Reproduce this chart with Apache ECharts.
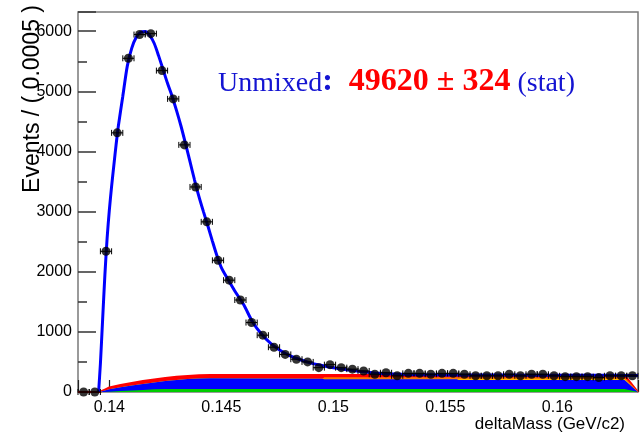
<!DOCTYPE html>
<html>
<head>
<meta charset="utf-8">
<script src="https://cdn.jsdelivr.net/npm/echarts@6/dist/echarts.min.js"></script>
<style>
  html, body { margin: 0; padding: 0; background: #fff; }
  #chart { width: 641px; height: 432px; }
</style>
</head>
<body>
<div id="chart"></div>
<script>
// deltaMass histogram: bin centres (GeV/c2) and events per 0.0005 bin
const binCenters = [
  0.13885, 0.13935, 0.13985, 0.14035, 0.14085, 0.14135, 0.14185, 0.14235, 0.14285, 0.14335,
  0.14385, 0.14435, 0.14485, 0.14535, 0.14585, 0.14635, 0.14685, 0.14735, 0.14785, 0.14835,
  0.14885, 0.14935, 0.14985, 0.15035, 0.15085, 0.15135, 0.15185, 0.15235, 0.15285, 0.15335,
  0.15385, 0.15435, 0.15485, 0.15535, 0.15585, 0.15635, 0.15685, 0.15735, 0.15785, 0.15835,
  0.15885, 0.15935, 0.15985, 0.16035, 0.16085, 0.16135, 0.16185, 0.16235, 0.16285, 0.16335
];
const eventCounts = [
  0, 0, 2340, 4310, 5550, 5945, 5960, 5345, 4875, 4110,
  3410, 2830, 2190, 1860, 1530, 1155, 945, 745, 625, 545,
  500, 405, 455, 405, 380, 350, 295, 320, 270, 310,
  310, 295, 310, 310, 295, 270, 270, 270, 295, 270,
  295, 295, 270, 255, 255, 255, 240, 270, 270, 270
];
const binHalfWidth = 0.00025;

// total fit curve (signal + backgrounds)
const fitX = [
  0.13952, 0.1396, 0.1397, 0.1398, 0.1399, 0.1400, 0.1401, 0.1402, 0.1403, 0.1404,
  0.1406, 0.1408, 0.1410, 0.1412, 0.1414, 0.1416, 0.1418, 0.1420, 0.1422, 0.1424,
  0.1426, 0.1428, 0.1430, 0.1432, 0.1434, 0.1436, 0.1438, 0.1440, 0.1442, 0.1444,
  0.1446, 0.1448, 0.1450, 0.1453, 0.1456, 0.1460, 0.1464, 0.1468, 0.1472, 0.1476,
  0.1480, 0.1485, 0.1490, 0.1495, 0.1500, 0.1506, 0.1512, 0.1520, 0.1530, 0.1540,
  0.1550, 0.1560, 0.1570, 0.1580, 0.1590, 0.1600, 0.1610, 0.1620, 0.1630, 0.1636
];
const fitY = [
  0, 470, 1210, 1945, 2560, 3030, 3420, 3770, 4110, 4420,
  4920, 5420, 5720, 5900, 5985, 5995, 5930, 5800, 5590, 5360,
  5130, 4920, 4680, 4420, 4130, 3830, 3530, 3250, 3000, 2760,
  2510, 2270, 2070, 1870, 1680, 1450, 1160, 960, 810, 700,
  615, 540, 480, 440, 402, 370, 342, 310, 294, 288,
  284, 283, 282, 281, 280, 279, 278, 277, 276, 275
];

// background components, listed bottom to top
const bgX      = [0.1386, 0.13957, 0.1398, 0.1400, 0.1405, 0.1410, 0.1415, 0.1420, 0.1425, 0.1430, 0.1435, 0.1440, 0.1445, 0.1495, 0.1496, 0.1555, 0.1556, 0.1630, 0.1636];
const bgGreen  = [0, 0, 2, 5, 15, 25, 35, 45, 50, 50, 50, 50, 50, 50, 50, 50, 50, 50, 0];
const bgBlue   = [0, 0, 23, 40, 65, 85, 100, 115, 135, 150, 165, 175, 178, 172, 162, 160, 150, 150, 0];
const bgYellow = [0, 0, 0, 0, 0, 0, 0, 0, 0, 0, 0, 0, 0, 0, 0, 0, 10, 10, 0];
const bgOrange = [0, 0, 0, 0, 0, 0, 0, 0, 0, 0, 0, 0, 0, 0, 32, 34, 34, 34, 0];
const bgRed    = [0, 0, 15, 30, 35, 40, 50, 50, 50, 55, 53, 53, 55, 60, 38, 38, 38, 38, 0];

const sansFont = 'Liberation Sans, Arial, Helvetica, sans-serif';
const serifFont = 'Liberation Serif, Times New Roman, serif';

const zip = (xs, ys) => xs.map((x, i) => [x, ys[i]]);

// cumulative tops of the background stack
const components = [bgGreen, bgBlue, bgYellow, bgOrange, bgRed];
const colors = ['#00cc00', '#0000ff', '#ffd200', '#ff7a00', '#ff0000'];
const tops = [];
components.forEach((comp, c) => {
  tops.push(comp.map((v, i) => v + (c > 0 ? tops[c - 1][i] : 0)));
});

// each layer is filled down to zero; the highest layer is painted first
const bgSeriesList = tops.map((top, c) => ({
  type: 'line',
  data: zip(bgX, top),
  symbol: 'none',
  lineStyle: { width: c === 4 ? 2 : 0, color: colors[c] },
  areaStyle: { color: colors[c], opacity: 1, origin: 'start' },
  itemStyle: { color: colors[c] },
  z: 2 + (4 - c) * 0.1,
  silent: true
}));

const chart = echarts.init(document.getElementById('chart'), null, { renderer: 'canvas' });

chart.setOption({
  animation: false,
  backgroundColor: '#ffffff',
  grid: {
    left: 78, top: 12, right: 3, bottom: 40,
    show: true, borderColor: '#7a7a7a', borderWidth: 1.5, backgroundColor: 'transparent'
  },
  xAxis: {
    type: 'value',
    min: 0.1386,
    max: 0.1636,
    splitNumber: 5,
    axisLine: { show: false },
    splitLine: { show: false },
    axisTick: { show: true, inside: true, length: 12, lineStyle: { color: '#222', width: 1.2 } },
    minorTick: { show: true, splitNumber: 2, length: 6, lineStyle: { color: '#222', width: 1.2 } },
    axisLabel: {
      color: '#000', fontSize: 16, fontFamily: sansFont, margin: 8,
      showMinLabel: false, showMaxLabel: false,
      formatter: v => String(v)
    }
  },
  yAxis: {
    type: 'value',
    min: 0,
    max: 6320,
    interval: 1000,
    axisLine: { show: false },
    splitLine: { show: false },
    axisTick: { show: true, inside: true, length: 18, lineStyle: { color: '#333', width: 1.5 } },
    minorTick: { show: true, splitNumber: 2, length: 9, lineStyle: { color: '#333', width: 1.5 } },
    axisLabel: {
      color: '#000', fontSize: 16, fontFamily: sansFont, margin: 6,
      showMaxLabel: false,
      formatter: v => String(v)
    }
  },
  series: bgSeriesList.concat([
    {
      name: 'fit',
      type: 'line',
      data: zip(fitX, fitY),
      symbol: 'none',
      smooth: 0.25,
      lineStyle: { color: '#0000ff', width: 3 },
      z: 5,
      silent: true
    },
    {
      name: 'errors',
      type: 'custom',
      data: zip(binCenters, eventCounts),
      z: 6,
      clip: false,
      silent: true,
      renderItem: function (params, api) {
        const x = api.value(0), y = api.value(1);
        const l = api.coord([x - binHalfWidth, y]);
        const r = api.coord([x + binHalfWidth, y]);
        const cap = 3;
        const st = { stroke: '#000', lineWidth: 1 };
        return {
          type: 'group',
          children: [
            { type: 'line', shape: { x1: l[0], y1: l[1], x2: r[0], y2: r[1] }, style: st },
            { type: 'line', shape: { x1: l[0], y1: l[1] - cap, x2: l[0], y2: l[1] + cap }, style: st },
            { type: 'line', shape: { x1: r[0], y1: r[1] - cap, x2: r[0], y2: r[1] + cap }, style: st }
          ]
        };
      }
    },
    {
      name: 'data',
      type: 'scatter',
      data: zip(binCenters, eventCounts),
      symbol: 'circle',
      symbolSize: 9,
      itemStyle: { color: '#000' },
      clip: false,
      z: 7,
      silent: true
    }
  ]),
  graphic: [
    {
      type: 'text',
      x: 33, y: 5,
      rotation: Math.PI / 2,
      style: {
        text: 'Events / ( 0.0005 )',
        font: '23px ' + sansFont,
        fill: '#000',
        align: 'right',
        verticalAlign: 'middle'
      },
      z: 20
    },
    {
      type: 'text',
      x: 625, y: 424,
      style: {
        text: 'deltaMass (GeV/c2)',
        font: '17px ' + sansFont,
        fill: '#000',
        align: 'right',
        verticalAlign: 'middle'
      },
      z: 20
    },
    {
      type: 'text',
      x: 218, y: 98,
      style: {
        text: '{a|Unmixed}{b|:}{c|  49620 ± 324}{a| (stat)}',
        verticalAlign: 'bottom',
        rich: {
          a: { font: '28px ' + serifFont, fill: '#1414d2', verticalAlign: 'bottom' },
          b: { font: 'bold 32px ' + serifFont, fill: '#1414d2', verticalAlign: 'bottom' },
          c: { font: 'bold 32px ' + serifFont, fill: '#ff0000', verticalAlign: 'bottom' }
        }
      },
      z: 20
    }
  ]
});
</script>
</body>
</html>
